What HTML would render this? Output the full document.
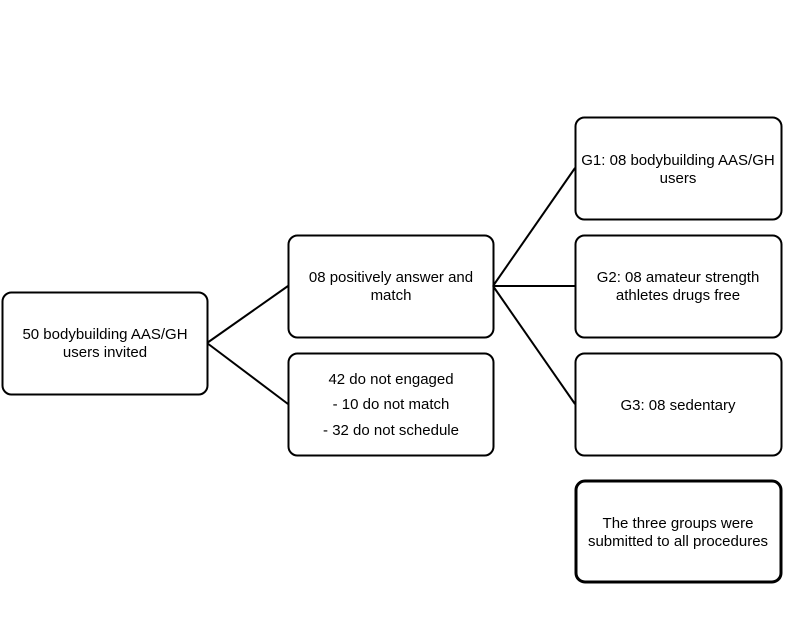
<!DOCTYPE html>
<html><head><style>body{margin:0;background:#fff}</style></head><body>
<svg width="791" height="633" xmlns="http://www.w3.org/2000/svg" font-family="Liberation Sans, sans-serif" font-size="15" fill="#000">
<g fill="#fff" stroke="#000" stroke-width="2">
<rect x="2.5" y="292.5" width="205" height="102" rx="9"/>
<rect x="288.5" y="235.5" width="205" height="102" rx="9"/>
<rect x="288.5" y="353.5" width="205" height="102" rx="9"/>
<rect x="575.5" y="117.5" width="206" height="102" rx="9"/>
<rect x="575.5" y="235.5" width="206" height="102" rx="9"/>
<rect x="575.5" y="353.5" width="206" height="102" rx="9"/>
<rect x="576" y="481" width="205" height="101" rx="9" stroke-width="3"/>
</g>
<g stroke="#000" stroke-width="2">
<line x1="207" y1="343" x2="288" y2="286"/>
<line x1="207" y1="343" x2="288" y2="404"/>
<line x1="493" y1="286" x2="575" y2="168"/>
<line x1="493" y1="286" x2="575" y2="286"/>
<line x1="493" y1="286" x2="575" y2="404"/>
</g>
<g text-anchor="middle">
<text x="105" y="339">50 bodybuilding AAS/GH</text>
<text x="105" y="357">users invited</text>
<text x="391" y="282">08 positively answer and</text>
<text x="391" y="300">match</text>
<text x="391" y="384">42 do not engaged</text>
<text x="391" y="409">- 10 do not match</text>
<text x="391" y="435">- 32 do not schedule</text>
<text x="678" y="165">G1: 08 bodybuilding AAS/GH</text>
<text x="678" y="183">users</text>
<text x="678" y="282">G2: 08 amateur strength</text>
<text x="678" y="300">athletes drugs free</text>
<text x="678" y="410">G3: 08 sedentary</text>
<text x="678" y="528">The three groups were</text>
<text x="678" y="546">submitted to all procedures</text>
</g>
</svg>
</body></html>
